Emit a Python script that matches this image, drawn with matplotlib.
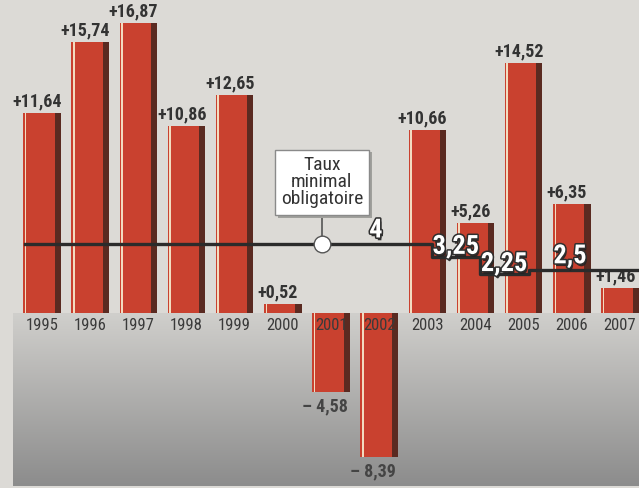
import numpy as np
import matplotlib
matplotlib.use("Agg")
import matplotlib.pyplot as plt
import matplotlib.patheffects as pe
from matplotlib import font_manager as fm
from matplotlib.patches import Rectangle

# pick a condensed font if one is installed
_have = {f.name for f in fm.fontManager.ttflist}
_cands = ["Roboto Condensed", "Fira Sans Condensed", "Archivo Narrow", "PT Sans Narrow",
          "IBM Plex Sans Condensed", "Liberation Sans Narrow", "Open Sans Condensed"]
FONT = next((c for c in _cands if c in _have), "DejaVu Sans")
plt.rcParams['font.family'] = [FONT, 'DejaVu Sans']

# data ---------------------------------------------------------------
years = [1995, 1996, 1997, 1998, 1999, 2000, 2001, 2002, 2003, 2004, 2005, 2006, 2007]
perf = [11.64, 15.74, 16.87, 10.86, 12.65, 0.52, -4.58, -8.39, 10.66, 5.26, 14.52, 6.35, 1.46]
perf_labels = ["+11,64", "+15,74", "+16,87", "+10,86", "+12,65", "+0,52", "\u2013 4,58",
               "\u2013 8,39", "+10,66", "+5,26", "+14,52", "+6,35", "+1,46"]
rate_years = [1995, 1996, 1997, 1998, 1999, 2000, 2001, 2002, 2003, 2004, 2005, 2006, 2007]
rate = [4, 4, 4, 4, 4, 4, 4, 4, 3.25, 2.25, 2.5, 2.5, 2.5]
rate_labels = ["4", "3,25", "2,25", "2,5"]
rate_label_rates = [4, 3.25, 2.25, 2.5]

XMIN, XMAX = 1994.128, 2007.394
YMIN, YMAX = -10.17, 18.2

fig = plt.figure(figsize=(6.39, 4.88), dpi=100)
ax = fig.add_axes([0, 0, 1, 1])
ax.set_xlim(XMIN, XMAX)
ax.set_ylim(YMIN, YMAX)
ax.axis("off")
fig.patch.set_facecolor("#dcdad6")

# lower grey gradient panel
grad = np.linspace(0, 1, 256)[:, None]
cmap = matplotlib.colors.LinearSegmentedColormap.from_list("g", ["#d0cfcc", "#8c8c8c"])
ax.imshow(grad, extent=[1994.40, XMAX, YMIN + 0.12, 0], aspect="auto", cmap=cmap, zorder=0)

# bars ---------------------------------------------------------------
w = 0.78
yrs = np.array(years)
ax.bar(yrs, perf, width=w, color="#c9412f", zorder=2)
ax.bar(yrs + w / 2 - 0.065, perf, width=0.13, color="#5a2a21", zorder=3)
ax.bar(yrs - w / 2 + 0.05, perf, width=0.035, color="#f3dcc0", zorder=3)

for x, v, lab in zip(years, perf, perf_labels):
    if v >= 0:
        ax.text(x - 0.1, v + 0.15, lab, ha="center", va="bottom", fontsize=13,
                fontweight="bold", color="#333333", zorder=5)
    else:
        ax.text(x - 0.12, v - 0.3, lab, ha="center", va="top", fontsize=13,
                fontweight="bold", color="#444444", zorder=5)
    ax.text(x, -0.3, str(x), ha="center", va="top", fontsize=12,
            color="#3a3a3a", zorder=5)

# minimum rate line --------------------------------------------------
rx = [1994.65] + [y + 0.1 for y in rate_years[1:]] + [XMAX]
ry = rate + [rate[-1]]
ax.step(rx, ry, where="post", color="#2b2b2b", lw=2.4, zorder=6)

# callout box
ax.plot([2000.81, 2000.81], [4, 5.7], color="#555555", lw=1.2, zorder=6)
ax.plot([2000.81], [4], marker="o", ms=12, mfc="white", mec="#555555", mew=1, zorder=7)
ax.add_patch(Rectangle((1999.9, 5.55), 1.95, 3.8, fc="#a0a09c", ec="none", zorder=6.5))
ax.add_patch(Rectangle((1999.84, 5.7), 1.95, 3.8, fc="white", ec="#8a8a8a", lw=1, zorder=7))
ax.text(2000.81, 7.6, "Taux\nminimal\nobligatoire", ha="center", va="center",
        fontsize=14, color="#333333", linespacing=0.92, zorder=8)

label_x = [2001.93, 2003.59, 2004.59, 2005.96]
label_dy = [0.8, 0.6, 0.6, 0.8]
for x, r, dy, lab in zip(label_x, rate_label_rates, label_dy, rate_labels):
    ax.text(x, r + dy, lab, ha="center", va="center", fontsize=19, fontweight="bold",
            color="white", zorder=9,
            path_effects=[pe.SimplePatchShadow(offset=(1, -2), shadow_rgbFace="#222222",
                                               alpha=0.9),
                          pe.withStroke(linewidth=2.2, foreground="#2e2e2e")])

fig.savefig("out.png", dpi=100)
